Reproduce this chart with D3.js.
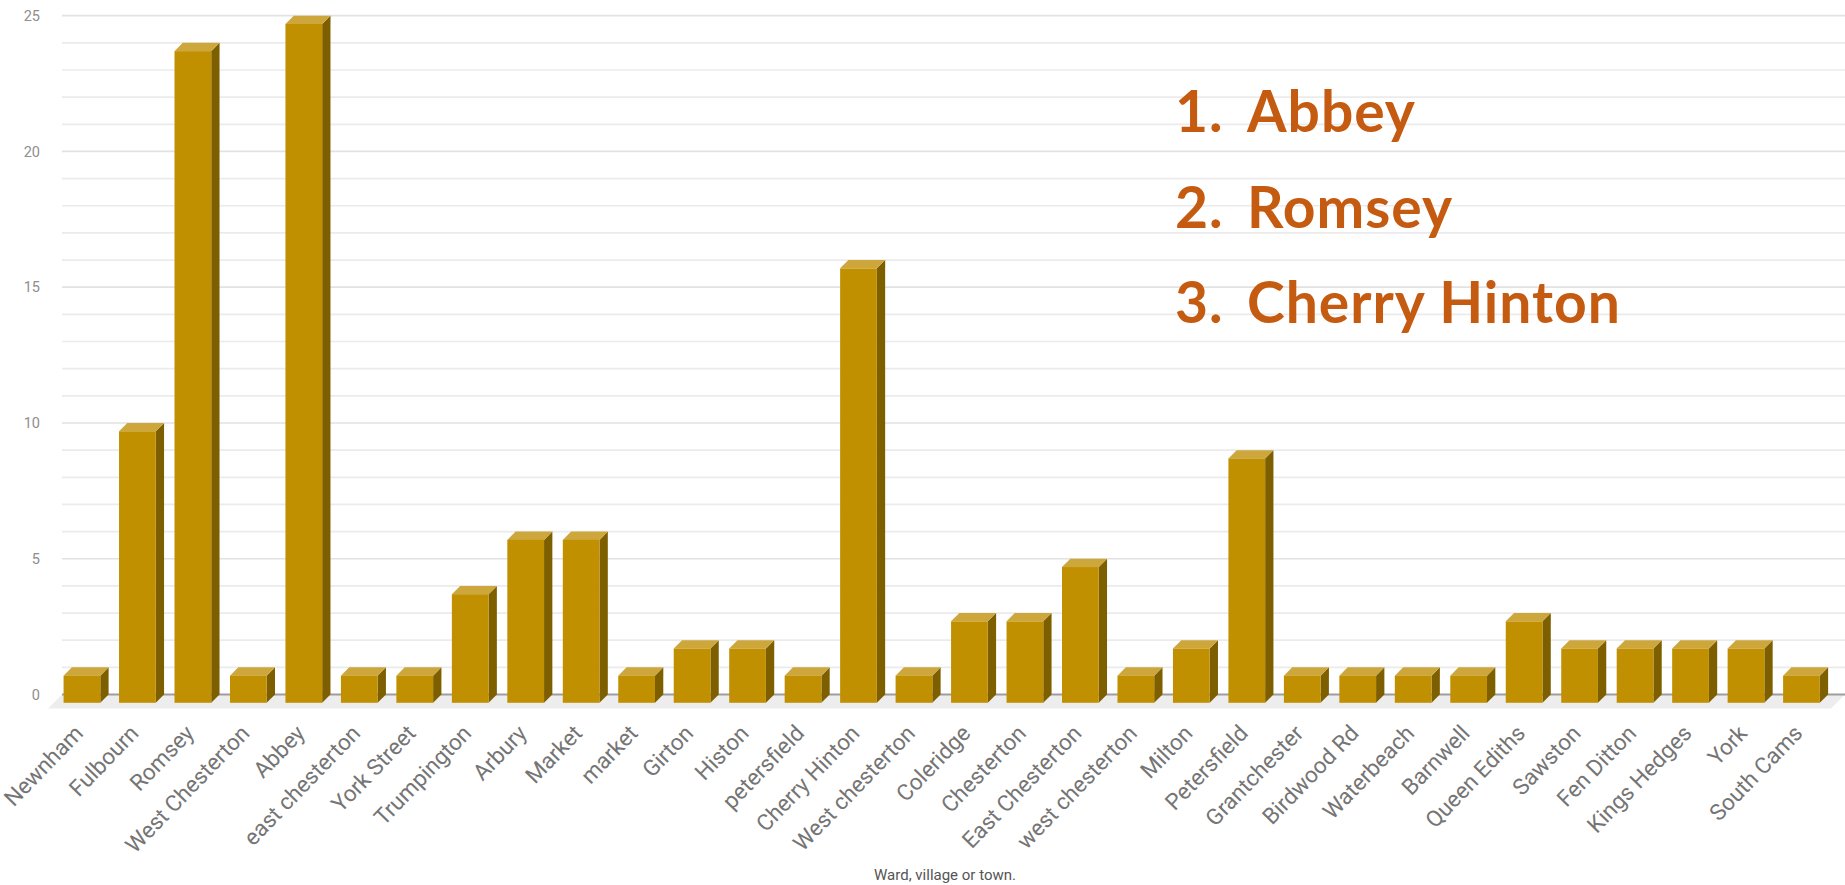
<!DOCTYPE html>
<html><head><meta charset="utf-8">
<script src="https://cdn.jsdelivr.net/npm/d3@7"></script>
<style>html,body{margin:0;padding:0;background:#fff;} svg{display:block;}</style>
</head><body><svg id="chart" width="1845" height="885"></svg>
<script>
const categories = ["Newnham","Fulbourn","Romsey","West Chesterton","Abbey","east chesterton","York Street","Trumpington","Arbury","Market","market","Girton","Histon","petersfield","Cherry Hinton","West chesterton","Coleridge","Chesterton","East Chesterton","west chesterton","Milton","Petersfield","Grantchester","Birdwood Rd","Waterbeach","Barnwell","Queen Ediths","Sawston","Fen Ditton","Kings Hedges","York","South Cams"];
const values = [1,10,24,1,25,1,1,4,6,6,1,2,2,1,16,1,3,3,5,1,2,9,1,1,1,1,3,2,2,2,2,1];
const yTickValues = [0,5,10,15,20,25];
const yTickLabels = ["0","5","10","15","20","25"];
const xAxisTitle = "Ward, village or town.";
const rankNumbers = ["1.","2.","3."];
const rankNames = ["Abbey","Romsey","Cherry Hinton"];

const svg = d3.select("#chart");
const plotLeft = 62, plotRight = 1845;
const y = d3.scaleLinear().domain([0, 25]).range([694.5, 15.7]);
const x = d3.scaleBand().domain(categories).range([62, 1838]).paddingInner(0.338).paddingOuter(0.178);
const depth = 8.3;
const bw = x.bandwidth();

// floor
const y0 = y(0);
svg.append("polygon")
  .attr("points", [[plotLeft, y0], [plotRight, y0], [plotRight - 14, y0 + 14], [plotLeft - 14, y0 + 14]].map(p => p.join(",")).join(" "))
  .attr("fill", "#ededed");

// gridlines
svg.append("g").selectAll("line").data(d3.range(1, 26)).join("line")
  .attr("x1", plotLeft).attr("x2", plotRight)
  .attr("y1", d => y(d)).attr("y2", d => y(d))
  .attr("stroke", d => d % 5 === 0 ? "#e2e2e2" : "#ebebeb")
  .attr("stroke-width", 1.7);

// zero line
svg.append("line").attr("x1", plotLeft).attr("x2", plotRight).attr("y1", y0).attr("y2", y0)
  .attr("stroke", "#9e9e9e").attr("stroke-width", 2);

// y axis
const yAxis = svg.append("g").attr("transform", "translate(40,0)")
  .call(d3.axisLeft(y).tickValues(yTickValues).tickFormat((d, i) => yTickLabels[i]).tickSize(0).tickPadding(0));
yAxis.select(".domain").remove();
yAxis.selectAll("text").attr("font-family", "Roboto, sans-serif").attr("font-size", 14.5).attr("fill", "#8e8e8e");

// bars
const bars = svg.append("g").selectAll("g").data(categories.map((c, i) => ({c, v: values[i]}))).join("g");
bars.each(function(d) {
  const g = d3.select(this);
  const bx = x(d.c), top = y(d.v), bot = y(0);
  const fx = bx - depth, ftop = top + depth, fbot = bot + depth;
  g.append("polygon").attr("points", [[bx + bw, top], [bx + bw, bot], [fx + bw, fbot], [fx + bw, ftop]].map(p => p.join(",")).join(" "))
    .attr("fill", "#7e5f00");
  g.append("polygon").attr("points", [[bx, top], [bx + bw, top], [fx + bw, ftop], [fx, ftop]].map(p => p.join(",")).join(" "))
    .attr("fill", "#cda63c");
  g.append("rect").attr("x", fx).attr("y", ftop).attr("width", bw).attr("height", fbot - ftop)
    .attr("fill", "#c09000");
});

// x axis labels
const xAxis = svg.append("g").attr("transform", "translate(0,729)")
  .call(d3.axisBottom(x).tickSize(0).tickPadding(0));
xAxis.select(".domain").remove();
xAxis.selectAll("text")
  .attr("y", 0).attr("dy", "0.35em")
  .attr("text-anchor", "end")
  .attr("transform", "translate(-11.5,0) rotate(-46)")
  .attr("font-family", "Roboto, sans-serif").attr("font-size", 22.5).attr("fill", "#757575");

// axis title
svg.append("text").attr("x", 945).attr("y", 880).attr("text-anchor", "middle")
  .attr("font-family", "Roboto, sans-serif").attr("font-size", 15).attr("fill", "#555")
  .text(xAxisTitle);

// annotations
const baselines = [131.7, 228.3, 323.3];
const ann = svg.append("g").attr("font-family", "Lato, sans-serif").attr("font-weight", "bold")
  .attr("font-size", 57).attr("letter-spacing", 1).attr("fill", "#c55a11");
rankNames.forEach((n, i) => {
  ann.append("text").attr("x", 1175).attr("y", baselines[i]).text(rankNumbers[i]);
  ann.append("text").attr("x", 1247).attr("y", baselines[i]).text(n);
});
</script></body></html>
